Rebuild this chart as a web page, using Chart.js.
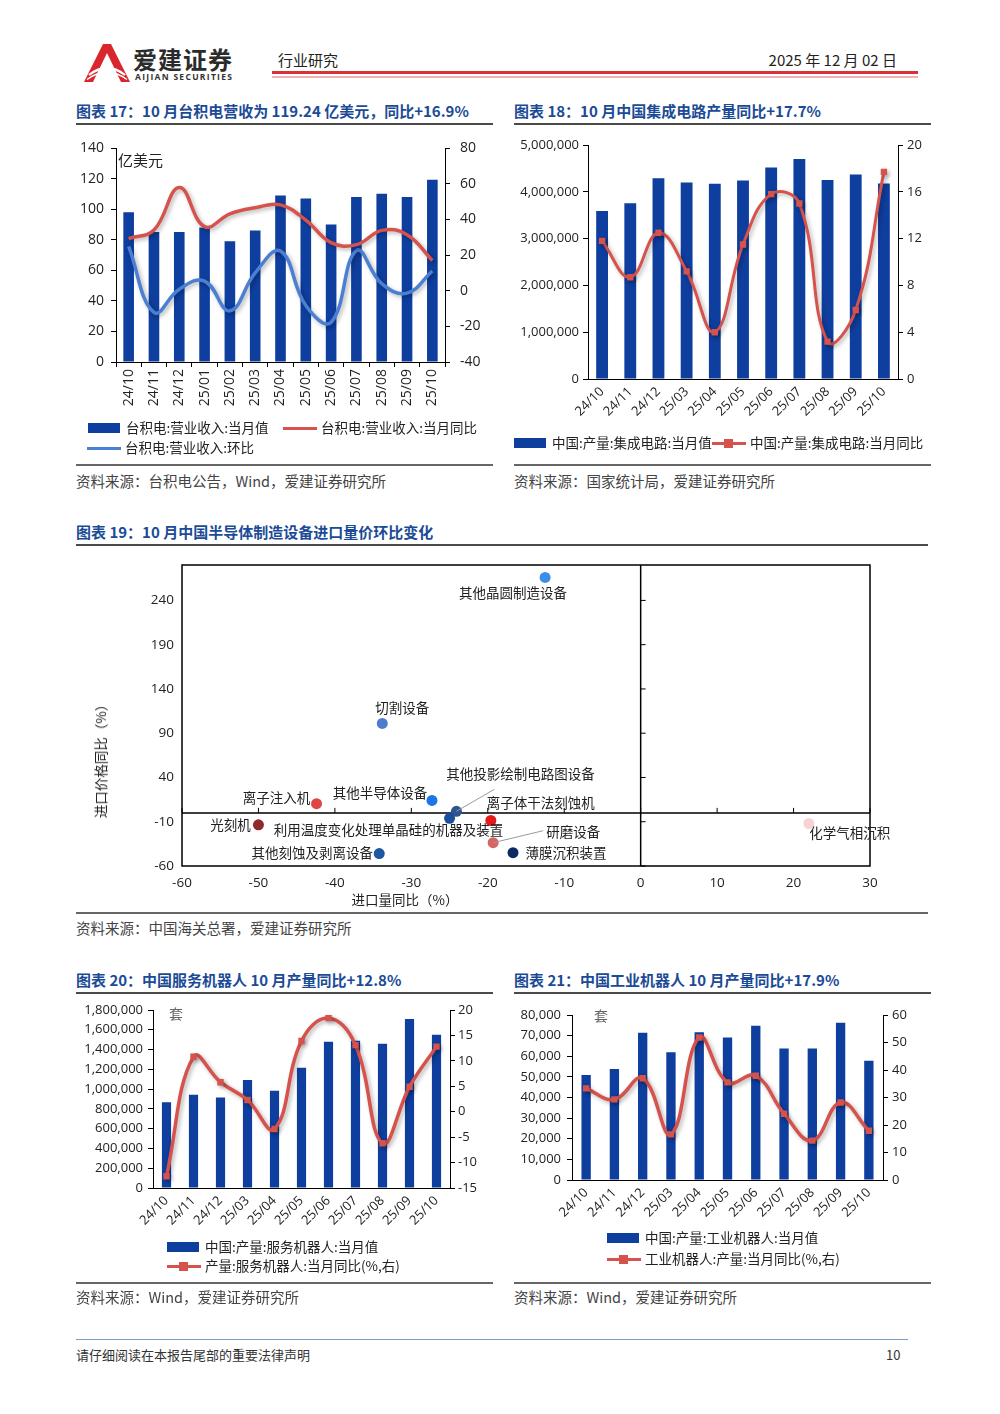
<!DOCTYPE html>
<html lang="zh-CN">
<head>
<meta charset="utf-8">
<title>行业研究</title>
<script src="https://cdn.jsdelivr.net/npm/chart.js@4.4.1/dist/chart.umd.min.js"></script>
<style>
  html, body { margin: 0; padding: 0; background: #fff; }
  body { width: 1000px; height: 1414px; position: relative; overflow: hidden;
         font-family: "Noto Sans CJK SC", "Noto Sans", sans-serif; color: #222; }
  .abs { position: absolute; white-space: nowrap; }
  .title { position: absolute; font-size: 15px; font-weight: bold; color: #1B4B96; line-height: 20px; white-space: nowrap; }
  .rule { position: absolute; height: 0; border-top: 2px solid #4a4a4a; }
  .src { position: absolute; font-size: 14.5px; color: #444; line-height: 20px; white-space: nowrap; }
  .box { position: absolute; }
  .box canvas { display: block; }
  .leg { position: absolute; font-size: 13.5px; color: #222; line-height: 18px; white-space: nowrap; }
  .sw-bar { display: inline-block; width: 32px; height: 10px; background: #0E3E9E; vertical-align: middle; margin: -2px 6px 0 0; }
  .sw-line { display: inline-block; width: 34px; height: 3px; vertical-align: middle; margin: -2px 4px 0 0; position: relative; }
  .sw-line i { position: absolute; left: 12px; top: -3px; width: 9px; height: 9px; background: #D6524C; }
</style>
</head>
<body>

<!-- header -->
<svg class="abs" style="left:84px;top:44px" width="46" height="38" viewBox="0 0 46 38">
  <path d="M19 0 H27 L46 38 H37 L23 9 L9 38 H0 Z" fill="#D9262E"/>
  <path d="M5 31 Q23 17 41 31" stroke="#fff" stroke-width="2.2" fill="none"/>
  <path d="M3 35.5 Q23 21 43 35.5" stroke="#fff" stroke-width="1.4" fill="none"/>
</svg>
<div class="abs" style="left:133px;top:44px;font-size:24px;font-weight:bold;color:#2b2b2b;letter-spacing:1px;line-height:30px">爱建证券</div>
<div class="abs" style="left:135px;top:72px;font-size:8.5px;font-weight:bold;color:#333;letter-spacing:1.3px;line-height:10px;font-family:'Open Sans',sans-serif">AIJIAN SECURITIES</div>
<div class="abs" style="left:278px;top:50px;font-size:15px;line-height:20px;color:#222">行业研究</div>
<div class="abs" style="right:103px;top:50px;font-size:15px;line-height:20px;color:#222">2025 年 12 月 02 日</div>
<div class="abs" style="left:272px;top:71px;width:646px;height:3px;background:#D7333A"></div>
<div class="abs" style="left:272px;top:76px;width:646px;height:2px;background:#EDB3B5"></div>

<!-- chart 17 / 18 -->
<div class="title" style="left:76px;top:101px">图表 17：10 月台积电营收为 119.24 亿美元，同比+16.9%</div>
<div class="rule" style="left:76px;top:123px;width:417px"></div>
<div class="title" style="left:514px;top:101px">图表 18：10 月中国集成电路产量同比+17.7%</div>
<div class="rule" style="left:514px;top:123px;width:417px"></div>

<div class="box" style="left:70px;top:135px"><canvas id="c17" width="430" height="285"></canvas></div>
<div class="abs" style="left:118px;top:150px;font-size:15px;line-height:20px;color:#222">亿美元</div>
<div class="leg" style="left:88px;top:418px"><span class="sw-bar"></span>台积电:营业收入:当月值</div>
<div class="leg" style="left:283px;top:418px"><span class="sw-line" style="background:#D6524C"></span>台积电:营业收入:当月同比</div>
<div class="leg" style="left:87px;top:438px"><span class="sw-line" style="background:#4A7FD4"></span>台积电:营业收入:环比</div>

<div class="box" style="left:505px;top:135px"><canvas id="c18" width="430" height="295"></canvas></div>
<div class="leg" style="left:514px;top:433px"><span class="sw-bar"></span>中国:产量:集成电路:当月值</div>
<div class="leg" style="left:712px;top:433px"><span class="sw-line" style="background:#D6524C"><i></i></span>中国:产量:集成电路:当月同比</div>

<div class="rule" style="left:76px;top:464px;width:417px;border-color:#666"></div>
<div class="rule" style="left:514px;top:464px;width:417px;border-color:#666"></div>
<div class="src" style="left:76px;top:471px">资料来源：台积电公告，Wind，爱建证券研究所</div>
<div class="src" style="left:514px;top:471px">资料来源：国家统计局，爱建证券研究所</div>

<!-- chart 19 -->
<div class="title" style="left:76px;top:522px">图表 19：10 月中国半导体制造设备进口量价环比变化</div>
<div class="rule" style="left:76px;top:544px;width:852px"></div>
<div class="box" style="left:76px;top:555px"><canvas id="c19" width="852" height="355"></canvas></div>
<div class="abs" style="left:100px;top:758px;font-size:13.5px;line-height:18px;color:#222;transform:translate(-50%,-50%) rotate(-90deg)">进口价格同比（%）</div>
<div class="abs" style="left:405px;top:899px;font-size:13.5px;line-height:18px;color:#222;transform:translate(-50%,-50%)">进口量同比（%）</div>
<div class="rule" style="left:76px;top:912px;width:852px;border-color:#666"></div>
<div class="src" style="left:76px;top:918px">资料来源：中国海关总署，爱建证券研究所</div>

<!-- chart 20 / 21 -->
<div class="title" style="left:76px;top:970px">图表 20：中国服务机器人 10 月产量同比+12.8%</div>
<div class="rule" style="left:76px;top:992px;width:417px"></div>
<div class="title" style="left:514px;top:970px">图表 21：中国工业机器人 10 月产量同比+17.9%</div>
<div class="rule" style="left:514px;top:992px;width:417px"></div>

<div class="box" style="left:70px;top:1000px"><canvas id="c20" width="430" height="240"></canvas></div>
<div class="abs" style="left:169px;top:1004px;font-size:14px;line-height:18px;color:#666">套</div>
<div class="leg" style="left:167px;top:1237px"><span class="sw-bar"></span>中国:产量:服务机器人:当月值</div>
<div class="leg" style="left:167px;top:1256px"><span class="sw-line" style="background:#D6524C"><i></i></span>产量:服务机器人:当月同比(%,右)</div>

<div class="box" style="left:505px;top:1000px"><canvas id="c21" width="430" height="240"></canvas></div>
<div class="abs" style="left:594px;top:1006px;font-size:14px;line-height:18px;color:#666">套</div>
<div class="leg" style="left:607px;top:1228px"><span class="sw-bar"></span>中国:产量:工业机器人:当月值</div>
<div class="leg" style="left:607px;top:1249px"><span class="sw-line" style="background:#D6524C"><i></i></span>工业机器人:产量:当月同比(%,右)</div>

<div class="rule" style="left:76px;top:1282px;width:417px;border-color:#666"></div>
<div class="rule" style="left:514px;top:1282px;width:417px;border-color:#666"></div>
<div class="src" style="left:76px;top:1287px">资料来源：Wind，爱建证券研究所</div>
<div class="src" style="left:514px;top:1287px">资料来源：Wind，爱建证券研究所</div>

<!-- footer -->
<div class="abs" style="left:76px;top:1339px;width:832px;height:1px;background:#7C9CC8"></div>
<div class="abs" style="left:76px;top:1346px;font-size:13px;line-height:18px;color:#333">请仔细阅读在本报告尾部的重要法律声明</div>
<div class="abs" style="left:886px;top:1346px;font-size:13px;line-height:18px;color:#333">10</div>

<script>
// ---- data ----
const tsmcMonths = ['24/10','24/11','24/12','25/01','25/02','25/03','25/04','25/05','25/06','25/07','25/08','25/09','25/10'];
const tsmcRevenue = [98, 85, 85, 88, 79, 86, 109, 107, 90, 108, 110, 108, 119.24];
const tsmcYoY = [29.2, 34.0, 57.8, 35.9, 43.1, 46.5, 48.1, 39.6, 26.9, 25.8, 33.8, 31.4, 16.9];
const tsmcMoM = [24.8, -12.2, 0.8, 5.4, -11.3, 10.0, 22.2, -8.3, -17.7, 22.5, 3.9, -1.4, 11.0];

const icMonths = ['24/10','24/11','24/12','25/03','25/04','25/05','25/06','25/07','25/08','25/09','25/10'];
const icOutput = [3590000, 3755000, 4290000, 4200000, 4170000, 4240000, 4520000, 4700000, 4250000, 4370000, 4180000];
const icYoY = [11.8, 8.7, 12.5, 9.2, 4.0, 11.5, 15.8, 15.0, 3.2, 5.9, 17.7];

const equipNames = ['其他晶圆制造设备', '切割设备', '其他投影绘制电路图设备', '离子注入机', '其他半导体设备',
  '离子体干法刻蚀机', '利用温度变化处理单晶硅的机器及装置', '光刻机', '其他刻蚀及剥离设备', '薄膜沉积装置', '研磨设备', '化学气相沉积'];
const equipVolYoY = [-12.5, -33.8, -24.1, -42.4, -27.3, -19.6, -25.0, -50.0, -34.2, -16.7, -19.3, 22.0];
const equipPriceYoY = [266, 101, 1.8, 10.4, 14.1, -8.6, -6.1, -13.5, -46, -44.9, -33.7, -12.0];
const equipXTicks = [-60, -50, -40, -30, -20, -10, 0, 10, 20, 30];
const equipYTicks = [-60, -10, 40, 90, 140, 190, 240];

const robotMonths = ['24/10','24/11','24/12','25/03','25/04','25/05','25/06','25/07','25/08','25/09','25/10'];
const serviceOutput = [868000, 943000, 916000, 1091000, 983000, 1215000, 1478000, 1488000, 1458000, 1710000, 1549000];
const serviceYoY = [-12.7, 10.8, 5.8, 2.3, -3.4, 13.9, 18.4, 13.1, -6.2, 4.9, 12.8];
const industrialOutput = [50900, 53800, 71400, 61900, 71600, 69100, 74800, 63800, 63800, 76300, 57800];
const industrialYoY = [33.3, 29.3, 37.0, 16.6, 51.8, 35.5, 37.9, 24.1, 14.3, 28.2, 17.9];

// ---- styles ----
const BAR_BLUE = '#0E3E9E';
const LINE_RED = '#D6524C';
const LINE_BLUE = '#4A7FD4';
const equipColors = ['#3A8EE6', '#4D7CCB', '#2E5590', '#E04545', '#1E74E8', '#E3191C',
  '#1B4E9C', '#8E2A2A', '#1E56A0', '#0B2A63', '#D76565', '#F9D3D3'];
const equipLabelOffsets = [[-32, 15], [20, -16], [64, -37], [-40, -6], [-52, -8], [50, -18],
  [-61, 12], [-28, 0], [-67, -1], [53, 0], [80, -11], [41, 9]];
const equipLeaders = { 2: [38, -22], 10: [50, -12] };

Chart.defaults.font.family = '"Open Sans","Noto Sans CJK SC",sans-serif';
Chart.defaults.color = '#222';
Chart.defaults.animation = false;

// soft drop shadow under line series
const lineShadow = {
  id: 'lineShadow',
  beforeDatasetDraw(chart, args) {
    if (args.meta.type !== 'line') return;
    const c = chart.ctx;
    c.save();
    c.shadowColor = 'rgba(0,0,0,0.3)';
    c.shadowBlur = 4;
    c.shadowOffsetX = 2;
    c.shadowOffsetY = 2;
  },
  afterDatasetDraw(chart, args) {
    if (args.meta.type !== 'line') return;
    chart.ctx.restore();
  }
};

// fixed axis width, and no extra top/bottom room for the end labels
function fixWidth(width) {
  return s => { s.width = width; s.paddingTop = 0; s.paddingBottom = 0; };
}

function valueAxis(pos, min, max, step, width, pad, size) {
  return {
    position: pos, min: min, max: max,
    ticks: { stepSize: step, padding: pad || 5, font: { size: size || 13 }, callback: v => v.toLocaleString('en-US') },
    grid: { drawOnChartArea: false, color: '#000', tickLength: 5 },
    border: { color: '#000', width: 1 },
    afterFit: fixWidth(width)
  };
}

function catAxis(rot, height, marks, pad, size) {
  return {
    offset: true,
    ticks: { minRotation: rot, maxRotation: rot, autoSkip: false, font: { size: size || 13 }, padding: pad },
    grid: { display: marks, drawTicks: marks, drawOnChartArea: false, offset: true, color: '#000', tickLength: 5 },
    border: { display: true, color: '#000' },
    afterFit: s => { s.height = height; }
  };
}

function barSet(label, data, pct) {
  return { type: 'bar', label: label, data: data, backgroundColor: BAR_BLUE, yAxisID: 'y',
           barPercentage: pct, categoryPercentage: 1, order: 2 };
}

function lineSet(label, data, color, marker) {
  return { type: 'line', label: label, data: data, borderColor: color, backgroundColor: color,
           borderWidth: 3.5, tension: 0.42, yAxisID: 'y1', order: 1,
           pointStyle: 'rect', pointRadius: marker ? 4.5 : 0, pointBorderWidth: 0 };
}

const noLegend = { legend: { display: false }, tooltip: { enabled: false } };

// chart 17
new Chart(document.getElementById('c17'), {
  type: 'bar',
  data: {
    labels: tsmcMonths,
    datasets: [
      barSet('台积电:营业收入:当月值', tsmcRevenue, 0.42),
      lineSet('台积电:营业收入:当月同比', tsmcYoY, LINE_RED, false),
      lineSet('台积电:营业收入:环比', tsmcMoM, LINE_BLUE, false)
    ]
  },
  options: {
    responsive: false,
    layout: { padding: { top: 13, left: 0, right: 0, bottom: 0 } },
    plugins: noLegend,
    scales: {
      x: catAxis(90, 58, true, 2, 14),
      y: valueAxis('left', 0, 140, 20, 46, 7, 14),
      y1: valueAxis('right', -40, 80, 20, 55, 10, 14)
    }
  },
  plugins: [lineShadow]
});

// chart 18
new Chart(document.getElementById('c18'), {
  type: 'bar',
  data: {
    labels: icMonths,
    datasets: [
      barSet('中国:产量:集成电路:当月值', icOutput, 0.42),
      Object.assign(lineSet('中国:产量:集成电路:当月同比', icYoY, LINE_RED, true), { borderWidth: 3 })
    ]
  },
  options: {
    responsive: false,
    layout: { padding: { top: 10, left: 0, right: 0, bottom: 0 } },
    plugins: noLegend,
    scales: {
      x: catAxis(45, 51, false, 5),
      y: valueAxis('left', 0, 5000000, 1000000, 83, 4),
      y1: valueAxis('right', 0, 20, 4, 37, 4)
    }
  },
  plugins: [lineShadow]
});

// chart 19: scatter with labelled points
const scatterDecor = {
  id: 'scatterDecor',
  beforeDatasetsDraw(chart) {
    const { ctx, chartArea: a, scales: { x, y } } = chart;
    const x0 = x.getPixelForValue(0), y0 = y.getPixelForValue(0);
    ctx.save();
    ctx.strokeStyle = '#000';
    ctx.lineWidth = 1.5;
    ctx.strokeRect(a.left, a.top, a.right - a.left, a.bottom - a.top);
    ctx.beginPath();
    ctx.moveTo(x0, a.top); ctx.lineTo(x0, a.bottom);
    ctx.moveTo(a.left, y0); ctx.lineTo(a.right, y0);
    ctx.stroke();
    ctx.lineWidth = 1;
    ctx.beginPath();
    x.ticks.forEach(t => { const px = x.getPixelForValue(t.value); ctx.moveTo(px, y0); ctx.lineTo(px, y0 - 5); });
    y.ticks.forEach(t => { const py = y.getPixelForValue(t.value); ctx.moveTo(x0, py); ctx.lineTo(x0 + 5, py); });
    ctx.stroke();
    ctx.restore();
  },
  afterDatasetsDraw(chart) {
    const ctx = chart.ctx;
    const pts = chart.getDatasetMeta(0).data;
    ctx.save();
    ctx.strokeStyle = '#9a9a9a';
    ctx.lineWidth = 1;
    Object.keys(equipLeaders).forEach(k => {
      const p = pts[k], d = equipLeaders[k];
      ctx.beginPath();
      ctx.moveTo(p.x, p.y);
      ctx.lineTo(p.x + d[0], p.y + d[1]);
      ctx.stroke();
    });
    ctx.font = '13.5px "Noto Sans CJK SC", sans-serif';
    ctx.fillStyle = '#222';
    ctx.textAlign = 'center';
    ctx.textBaseline = 'middle';
    equipNames.forEach((n, i) => {
      const o = equipLabelOffsets[i];
      ctx.fillText(n, pts[i].x + o[0], pts[i].y + o[1]);
    });
    ctx.restore();
  }
};

new Chart(document.getElementById('c19'), {
  type: 'scatter',
  data: {
    datasets: [{
      label: '进口量价',
      data: equipVolYoY.map((v, i) => ({ x: v, y: equipPriceYoY[i] })),
      pointRadius: 5.5,
      pointBorderWidth: 0,
      pointBackgroundColor: equipColors
    }]
  },
  options: {
    responsive: false,
    layout: { padding: { top: 10, left: 0, right: 58, bottom: 0 } },
    plugins: noLegend,
    scales: {
      x: {
        type: 'linear', min: -60, max: 30,
        afterBuildTicks: s => { s.ticks = equipXTicks.map(v => ({ value: v })); },
        ticks: { padding: 9, font: { size: 13.5 } },
        grid: { display: false, drawTicks: false },
        border: { display: false },
        afterFit: s => { s.height = 44; }
      },
      y: {
        type: 'linear', min: -60, max: 280,
        afterBuildTicks: s => { s.ticks = equipYTicks.map(v => ({ value: v })); },
        ticks: { padding: 8, font: { size: 13.5 } },
        grid: { display: false, drawTicks: false },
        border: { display: false },
        afterFit: fixWidth(106)
      }
    }
  },
  plugins: [scatterDecor]
});

// chart 20
new Chart(document.getElementById('c20'), {
  type: 'bar',
  data: {
    labels: robotMonths,
    datasets: [
      barSet('中国:产量:服务机器人:当月值', serviceOutput, 0.34),
      lineSet('产量:服务机器人:当月同比(%,右)', serviceYoY, LINE_RED, true)
    ]
  },
  options: {
    responsive: false,
    layout: { padding: { top: 10, left: 0, right: 0, bottom: 0 } },
    plugins: noLegend,
    scales: {
      x: catAxis(45, 52, false, 5),
      y: valueAxis('left', 0, 1800000, 200000, 83, 5),
      y1: valueAxis('right', -15, 20, 5, 50, 3)
    }
  },
  plugins: [lineShadow]
});

// chart 21
new Chart(document.getElementById('c21'), {
  type: 'bar',
  data: {
    labels: robotMonths,
    datasets: [
      barSet('中国:产量:工业机器人:当月值', industrialOutput, 0.33),
      lineSet('工业机器人:产量:当月同比(%,右)', industrialYoY, LINE_RED, true)
    ]
  },
  options: {
    responsive: false,
    layout: { padding: { top: 15, left: 0, right: 0, bottom: 0 } },
    plugins: noLegend,
    scales: {
      x: catAxis(45, 60, false, 5),
      y: valueAxis('left', 0, 80000, 10000, 67, 6),
      y1: valueAxis('right', 0, 60, 10, 52, 4)
    }
  },
  plugins: [lineShadow]
});
</script>
</body>
</html>
